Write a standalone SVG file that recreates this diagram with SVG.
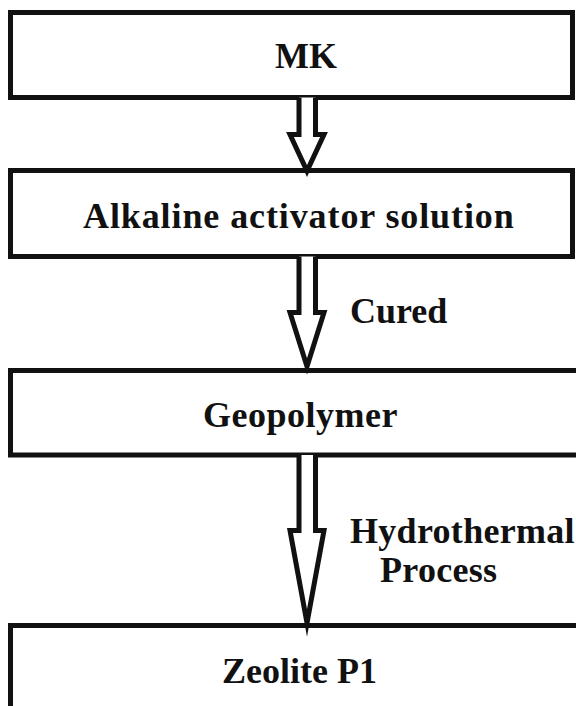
<svg xmlns="http://www.w3.org/2000/svg" width="576" height="706" viewBox="0 0 576 706">
<style>
.box{fill:#fff;stroke:#111;stroke-width:5}
.lbl{font-family:"Liberation Serif","Times New Roman",serif;font-weight:bold;font-size:36px;fill:#111}
.arr{fill:#fff;stroke:#111;stroke-width:5;stroke-linejoin:miter;stroke-miterlimit:10}
</style>
<rect width="576" height="706" fill="#fff"/>
<g id="node-mk">
<rect class="box" x="10.5" y="12.5" width="562" height="85"/>
<text class="lbl" x="275" y="68">MK</text>
</g>
<g id="node-alkaline">
<rect class="box" x="10.5" y="170.5" width="562" height="86"/>
<text class="lbl" x="83" y="228" style="letter-spacing:0.9px">Alkaline activator solution</text>
</g>
<g id="node-geopolymer">
<rect class="box" x="10.5" y="370.5" width="600" height="84.5"/>
<text class="lbl" x="203" y="427" style="letter-spacing:0.5px">Geopolymer</text>
</g>
<g id="node-zeolite">
<rect class="box" x="10.5" y="625.5" width="600" height="120"/>
<text class="lbl" x="222" y="683">Zeolite P1</text>
</g>
<g id="connectors">
<path class="arr" d="M299,97.5 V134.5 H290 L307,171 L324,134.5 H315.5 V97.5"/>
<path class="arr" d="M299,256.5 V312.5 H290 L307,366.5 L324,312.5 H315.5 V256.5"/>
<path class="arr" d="M299,455 V530.5 H290 L307,623 L324,530.5 H315.5 V455"/>
<text class="lbl" x="350" y="323">Cured</text>
<text class="lbl" x="350" y="543" style="letter-spacing:0.3px">Hydrothermal</text>
<text class="lbl" x="380" y="582" style="letter-spacing:0.3px">Process</text>
</g>
</svg>
